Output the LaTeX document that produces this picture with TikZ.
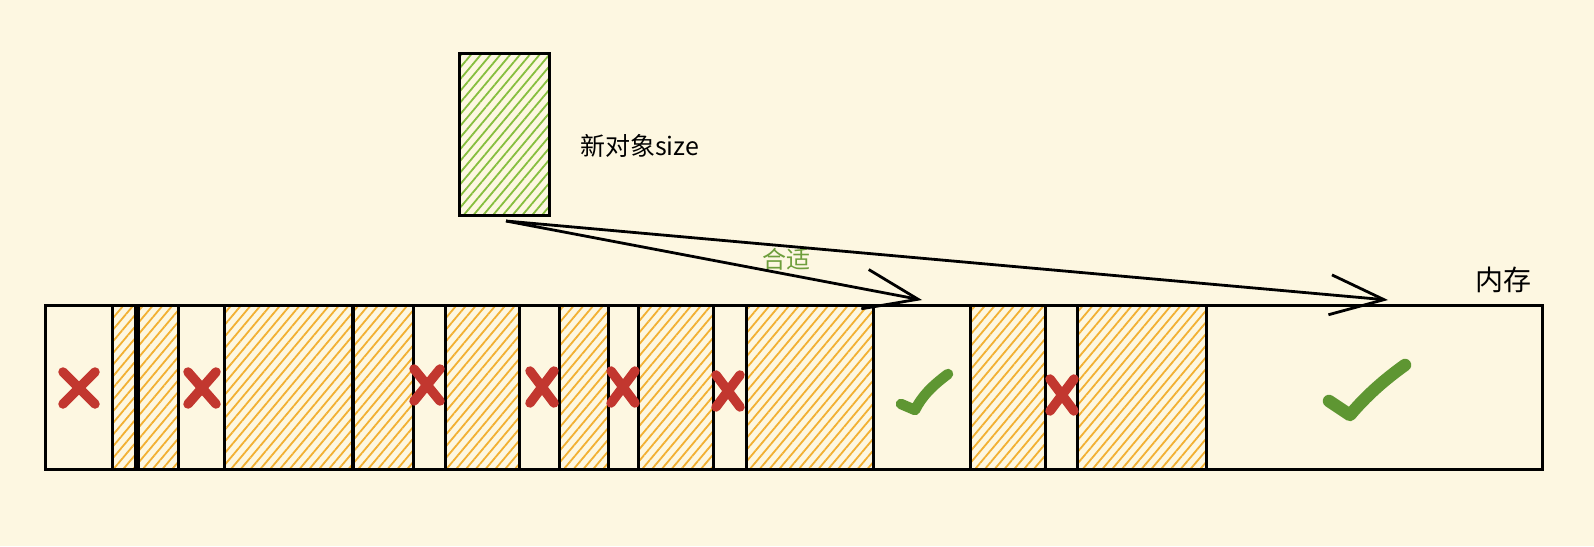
\documentclass[tikz,border=0pt]{standalone}
\usepackage{fontspec}
\newfontfamily\cjk{Noto Sans CJK SC}
\usetikzlibrary{arrows.meta,patterns.meta}
\definecolor{bgc}{HTML}{FDF7E1}
\definecolor{hatcho}{HTML}{F2B032}
\definecolor{hatchg}{HTML}{86BE3E}
\definecolor{xred}{HTML}{C2372F}
\definecolor{okgreen}{HTML}{5E9632}
\definecolor{lblgreen}{HTML}{6E9E3C}
\tikzset{
  used/.style={draw=black, line width=3pt, inner sep=0pt, outer sep=0pt, anchor=north west,
    pattern={Lines[angle=50,distance=7.5pt,line width=1.8pt]}, pattern color=hatcho},
  newobj/.style={draw=black, line width=3pt, inner sep=0pt, outer sep=0pt, anchor=north west,
    pattern={Lines[angle=50,distance=7.5pt,line width=1.8pt]}, pattern color=hatchg},
  memstrip/.style={draw=black, line width=3pt, inner sep=0pt, outer sep=0pt, anchor=north west},
  conn/.style={draw=black, line width=2.8pt, -{Straight Barb[length=54pt,width=40pt,line width=2.8pt]}},
  xmark/.style={draw=xred, line width=9.5pt, line cap=round},
  okmark/.style={draw=okgreen, line cap=round, line join=round},
  lbl/.style={font=\cjk, inner sep=0pt, text=black}
}
\begin{document}
\begin{tikzpicture}[x=1pt,y=-1pt]
\fill[bgc] (0,0) rectangle (1594,546);
\useasboundingbox (0,0) rectangle (1594,546);
% memory strip
\node[memstrip, minimum width=1497pt, minimum height=164pt] (mem) at (45,305) {};
% used blocks
\foreach \n/\a/\b in {b1/112/135, b2/138/178, b3/224/352, b4/353/413, b5/445/519,
  b6/559/608, b7/638/713, b8/746/873, b9/970/1045, b10/1077/1206} {
  \pgfmathsetmacro{\w}{\b-\a}
  \node[used, minimum width=\w pt, minimum height=164pt] (\n) at (\a,305) {};
}
% new object
\node[newobj, minimum width=90pt, minimum height=162pt] (obj) at (459,53) {};
\node[lbl, font=\cjk\fontsize{25}{30}\selectfont, anchor=west] (objlbl) at (580,146) {新对象size};
\node[lbl, font=\cjk\fontsize{28}{33}\selectfont] (memlbl) at (1503,280) {内存};
\node[lbl, font=\cjk\fontsize{24}{29}\selectfont, text=lblgreen] (fitlbl) at (786,259) {合适};
% targets
\coordinate (src) at (506,221);
\coordinate (t1) at (922,300);
\coordinate (t2) at (1388,300);
\draw[conn] (src) -- (t1);
\draw[conn] (src) -- (t2);
% cross marks
\foreach \cx/\cy/\hw in {79/388/16, 202/388/14, 427/385/13, 542/387/12, 623/387/12, 728/391/12, 1062/395/12} {
  \draw[xmark] (\cx-\hw,\cy-16) -- (\cx+\hw,\cy+16);
  \draw[xmark] (\cx+\hw,\cy-16) -- (\cx-\hw,\cy+16);
}
% check marks
\draw[okmark, line width=10.5pt] (901,404) -- (915,410) .. controls (922,396) and (932,386) .. (948,374);
\draw[okmark, line width=12.5pt] (1329,401) -- (1350,415) .. controls (1366,396) and (1384,380) .. (1405,365);
\end{tikzpicture}
\end{document}
